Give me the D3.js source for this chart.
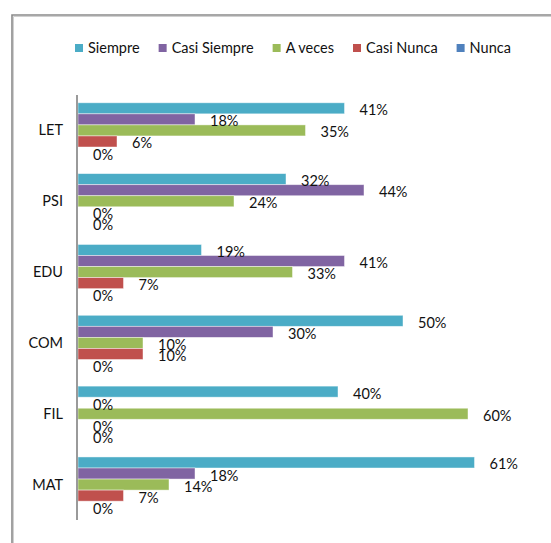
<!DOCTYPE html>
<html>
<head>
<meta charset="utf-8">
<script src="https://cdn.jsdelivr.net/npm/d3@7"></script>
<style>
  body { margin: 0; background: #fff; }
  svg text { font-family: Lato, "Open Sans", sans-serif; fill: #111; }
</style>
</head>
<body>
<svg id="viz" width="551" height="543"></svg>
<script>
// categories top to bottom
var categories = ["LET", "PSI", "EDU", "COM", "FIL", "MAT"];
var series = ["Siempre", "Casi Siempre", "A veces", "Casi Nunca", "Nunca"];
var colors = ["#4BACC6", "#8064A2", "#9BBB59", "#C0504D", "#4F81BD"];

// percent per category, in series order
var siempre     = [41, 32, 19, 50, 40, 61];
var casiSiempre = [18, 44, 41, 30, 0, 18];
var aVeces      = [35, 24, 33, 10, 60, 14];
var casiNunca   = [6, 0, 7, 10, 0, 7];
var nunca       = [0, 0, 0, 0, 0, 0];

var values = [siempre, casiSiempre, aVeces, casiNunca, nunca];

var rows = [];
categories.forEach(function (c, ci) {
  series.forEach(function (s, si) {
    rows.push({ cat: c, ser: s, si: si, v: values[si][ci] });
  });
});

var fs = 14.5;
var svg = d3.select("#viz");

// outer frame (chart area border)
svg.append("path")
  .attr("d", "M12,543 V15 H551")
  .attr("fill", "none")
  .attr("stroke", "#8a8a8a")
  .attr("stroke-width", 1.6);
svg.append("path")
  .attr("d", "M13.5,543 V16.5 H551")
  .attr("fill", "none")
  .attr("stroke", "#d0d0d0")
  .attr("stroke-width", 1);

var x = d3.scaleLinear().domain([0, 70]).range([78, 78 + 455]);
var y0 = d3.scaleBand().domain(categories).range([95, 520])
  .paddingInner(0.22).paddingOuter(0.11);
var y1 = d3.scaleBand().domain(series).range([0, y0.bandwidth()]);

var bars = svg.append("g");
bars.selectAll("rect")
  .data(rows)
  .join("rect")
  .attr("x", x(0))
  .attr("y", d => y0(d.cat) + y1(d.ser))
  .attr("width", d => x(d.v) - x(0))
  .attr("height", y1.bandwidth())
  .attr("fill", d => colors[d.si])
  .attr("stroke", d => d.v > 0 ? "rgba(255,255,255,0.55)" : "none")
  .attr("stroke-width", 0.8);

// data labels
svg.append("g").selectAll("text")
  .data(rows)
  .join("text")
  .attr("x", d => x(d.v) + 15)
  .attr("y", d => y0(d.cat) + y1(d.ser) + y1.bandwidth() / 2 + 7)
  .attr("font-size", fs)
  .text(d => d.v + "%");

// category axis
var yAxis = d3.axisLeft(y0).tickSize(0).tickPadding(14);
var ag = svg.append("g").attr("transform", "translate(77,0)").call(yAxis);
ag.select(".domain").attr("stroke", "#9a9a9a").attr("stroke-width", 2)
  .attr("d", "M0,95V520");
ag.selectAll("text")
  .attr("font-size", fs)
  .attr("font-family", "Lato, 'Open Sans', sans-serif")
  .attr("fill", "#111")
  .attr("dy", "0.35em");

// legend
var legend = svg.append("g").attr("transform", "translate(75,44)");
var lx = 0;
series.forEach(function (s, i) {
  var g = legend.append("g").attr("transform", "translate(" + lx + ",0)");
  g.append("rect").attr("width", 8).attr("height", 8).attr("fill", colors[i]);
  var t = g.append("text").attr("x", 13).attr("y", 9).attr("font-size", fs).text(s);
  lx += 13 + t.node().getComputedTextLength() + 19;
});
</script>
</body>
</html>
